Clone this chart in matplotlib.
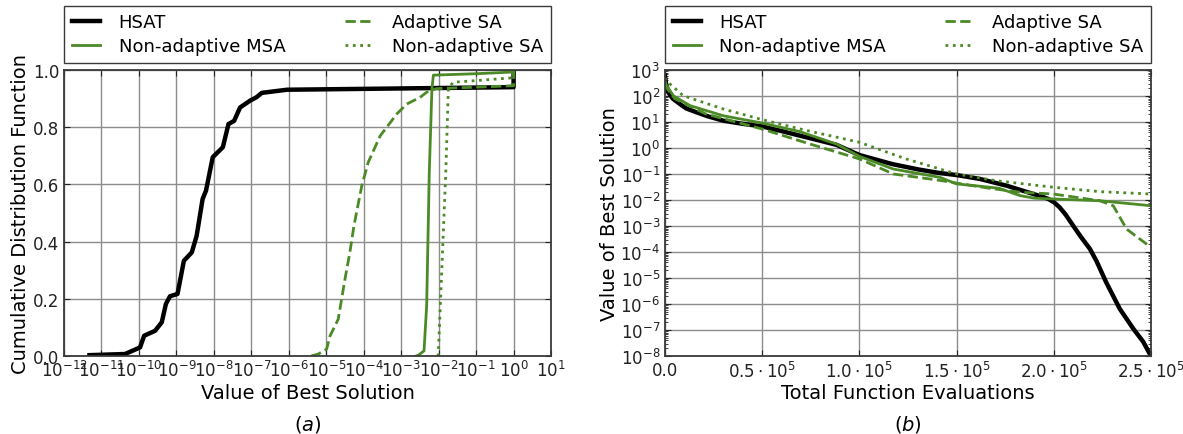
import numpy as np
import matplotlib
matplotlib.use("Agg")
import matplotlib.pyplot as plt
from matplotlib.ticker import FixedLocator, LogLocator, NullFormatter

plt.rcParams['font.family'] = ['DejaVu Sans']
plt.rcParams['mathtext.fontset'] = 'dejavusans'

GREEN = '#4b8a27'

# ---- panel (a): CDF of best value, x in log10 ----
hsat_logx = [-11.32, -10.37, -9.97, -9.86, -9.57, -9.39, -9.28, -9.17, -8.97, -8.80, -8.59,
             -8.46, -8.30, -8.21, -8.03, -7.76, -7.61, -7.46, -7.30, -7.03, -6.86, -6.72,
             -6.05, -4.0, -2.0, 0.0, 0.0]
hsat_cdf = [0.003, 0.007, 0.03, 0.071, 0.088, 0.118, 0.182, 0.209, 0.217, 0.333, 0.362,
            0.42, 0.549, 0.578, 0.695, 0.730, 0.811, 0.822, 0.869, 0.893, 0.905, 0.920,
            0.931, 0.934, 0.937, 0.94, 1.0]

asa_logx = [-5.4, -5.21, -4.99, -4.90, -4.68, -4.50, -4.37, -4.26, -4.05, -3.88, -3.56, -3.39,
            -3.12, -2.85, -2.50, -2.27, -2.05, -1.0, 0.0, 0.0]
asa_cdf = [0.0, 0.007, 0.024, 0.07, 0.129, 0.269, 0.362, 0.456, 0.596, 0.677, 0.770, 0.799,
           0.846, 0.881, 0.904, 0.927, 0.935, 0.94, 0.945, 1.0]

msa_logx = [-2.6, -2.54, -2.39, -2.32, -2.25, -2.18, -2.14, -1.0, 0.0, 0.0]
msa_cdf = [0.0, 0.003, 0.018, 0.176, 0.642, 0.934, 0.982, 0.987, 0.993, 1.0]

nsa_logx = [-2.03, -2.01, -1.92, -1.81, -1.74, -1.61, -1.0, -0.09, 0.0, 0.0]
nsa_cdf = [0.0, 0.003, 0.29, 0.64, 0.937, 0.957, 0.963, 0.972, 0.973, 1.0]

# ---- panel (b): best value vs evaluations (thousands), y in log10 ----
hsat_ev = [0, 0.5, 1.7, 4, 7.7, 11, 16.3, 22, 30, 40, 50, 60, 72.9, 88.3, 100, 117, 130, 141,
           150, 162, 175.8, 187.8, 194, 197.2, 200, 203, 206, 210, 214, 218.6, 222, 227, 234,
           241, 246, 250]
hsat_logy = [2.78, 2.5, 2.14, 1.9, 1.69, 1.52, 1.37, 1.22, 1.05, 0.93, 0.83, 0.65, 0.41, 0.12,
             -0.27, -0.62, -0.82, -0.96, -1.04, -1.19, -1.45, -1.73, -1.87, -1.96, -2.08,
             -2.28, -2.55, -2.99, -3.42, -3.88, -4.35, -5.17, -6.19, -6.96, -7.45, -8.0]

msa_ev = [0, 0.5, 4.3, 12.9, 30, 50, 69.4, 88.3, 100, 117.5, 141.5, 150, 162, 172, 182.6,
          190, 199.8, 223.8, 250]
msa_logy = [2.6, 2.45, 2.01, 1.63, 1.24, 0.96, 0.63, 0.15, -0.32, -0.81, -1.13, -1.38, -1.47,
            -1.55, -1.83, -1.93, -1.96, -2.03, -2.22]

asa_ev = [0, 0.5, 5, 21, 50, 73, 100, 117.5, 140, 150, 167, 182.6, 199.8, 223.8, 230.6, 237.5,
          250]
asa_logy = [2.5, 2.35, 1.9, 1.31, 0.73, 0.19, -0.42, -1.0, -1.23, -1.35, -1.55, -1.70, -1.77,
            -2.03, -2.22, -3.12, -3.82]

nsa_ev = [0, 0.5, 9.4, 30, 50, 73, 100, 124, 141.5, 150, 170.6, 199.8, 223.8, 250]
nsa_logy = [2.7, 2.6, 2.01, 1.5, 1.09, 0.67, 0.22, -0.42, -0.81, -1.0, -1.26, -1.51, -1.68,
            -1.77]

labels = ['HSAT', 'Adaptive SA', 'Non-adaptive MSA', 'Non-adaptive SA']

fig = plt.figure(figsize=(11.83, 4.35), dpi=100)
ax1 = fig.add_axes([0.0541, 0.1793, 0.4117, 0.6575])
ax2 = fig.add_axes([0.5621, 0.1793, 0.4108, 0.6575])


def style(ax):
    for s in ax.spines.values():
        s.set_color('#3a3a3a')
        s.set_linewidth(1.3)
    ax.grid(True, color='#8c8c8c', linewidth=1.0, linestyle='-')
    ax.set_axisbelow(True)
    ax.tick_params(which='both', direction='in', top=True, right=True, labelsize=12,
                   colors='#222222')
    ax.tick_params(which='major', length=4)
    ax.tick_params(which='minor', length=2)


def add_legend(ax, hs):
    ax.legend([hs[0], hs[2], hs[1], hs[3]], [labels[0], labels[2], labels[1], labels[3]],
              ncol=2, loc='lower left', bbox_to_anchor=(0, 1.0245, 1, 0.199), mode='expand',
              borderaxespad=0, fontsize=13, fancybox=False, edgecolor='#3a3a3a',
              framealpha=1, handlelength=1.55, handletextpad=1.05, labelspacing=0.33,
              borderpad=0.42, columnspacing=1.0)


# (a)
h1, = ax1.plot(10 ** np.array(hsat_logx), hsat_cdf, '-', color='black', lw=3.2)
h2, = ax1.plot(10 ** np.array(asa_logx), asa_cdf, '--', color=GREEN, lw=2)
h3, = ax1.plot(10 ** np.array(msa_logx), msa_cdf, '-', color=GREEN, lw=2)
h4, = ax1.plot(10 ** np.array(nsa_logx), nsa_cdf, ':', color=GREEN, lw=2)
ax1.set_xscale('log')
ax1.set_xlim(1e-12, 1e1)
ax1.set_ylim(0, 1)
ax1.xaxis.set_major_locator(FixedLocator([10.0 ** k for k in range(-12, 2)]))
ax1.xaxis.set_minor_locator(FixedLocator([]))
ax1.set_xticklabels(['$10^{%d}$' % k for k in range(-12, 2)])
ax1.set_yticks([0, 0.2, 0.4, 0.6, 0.8, 1.0])
ax1.set_yticklabels(['0.0', '0.2', '0.4', '0.6', '0.8', '1.0'])
style(ax1)
ax1.tick_params(axis='x', pad=3)
ax1.set_xlabel('Value of Best Solution', fontsize=14)
ax1.set_ylabel('Cumulative Distribution Function', fontsize=14)
ax1.xaxis.set_label_coords(0.5, -0.095)
ax1.yaxis.set_label_coords(-0.07, 0.5)
ax1.text(0.5, -0.235, '$(a)$', transform=ax1.transAxes, ha='center', va='center', fontsize=14)
add_legend(ax1, [h1, h2, h3, h4])

# (b)
e = 1000.0
g1, = ax2.plot(np.array(hsat_ev) * e, 10 ** np.array(hsat_logy), '-', color='black', lw=3.2)
g2, = ax2.plot(np.array(asa_ev) * e, 10 ** np.array(asa_logy), '--', color=GREEN, lw=2)
g3, = ax2.plot(np.array(msa_ev) * e, 10 ** np.array(msa_logy), '-', color=GREEN, lw=2)
g4, = ax2.plot(np.array(nsa_ev) * e, 10 ** np.array(nsa_logy), ':', color=GREEN, lw=2)
ax2.set_yscale('log')
ax2.set_xlim(0, 2.5e5)
ax2.set_ylim(1e-8, 1e3)
ax2.yaxis.set_major_locator(FixedLocator([10.0 ** k for k in range(-8, 4)]))
ax2.set_yticklabels(['$10^{%d}$' % k for k in range(-8, 4)])
ax2.yaxis.set_minor_locator(LogLocator(base=10, subs=np.arange(2, 10), numticks=30))
ax2.yaxis.set_minor_formatter(NullFormatter())
xt = [0, 0.5e5, 1.0e5, 1.5e5, 2.0e5, 2.5e5]
ax2.set_xticks(xt)
ax2.set_xticklabels(['0.0', r'$0.5\cdot10^{5}$', r'$1.0\cdot10^{5}$', r'$1.5\cdot10^{5}$',
                     r'$2.0\cdot10^{5}$', r'$2.5\cdot10^{5}$'])
style(ax2)
ax2.set_xlabel('Total Function Evaluations', fontsize=14)
ax2.set_ylabel('Value of Best Solution', fontsize=14)
ax2.xaxis.set_label_coords(0.5, -0.095)
ax2.yaxis.set_label_coords(-0.095, 0.5)
ax2.text(0.5, -0.235, '$(b)$', transform=ax2.transAxes, ha='center', va='center', fontsize=14)
add_legend(ax2, [g1, g2, g3, g4])

fig.savefig('out.png', dpi=100)
